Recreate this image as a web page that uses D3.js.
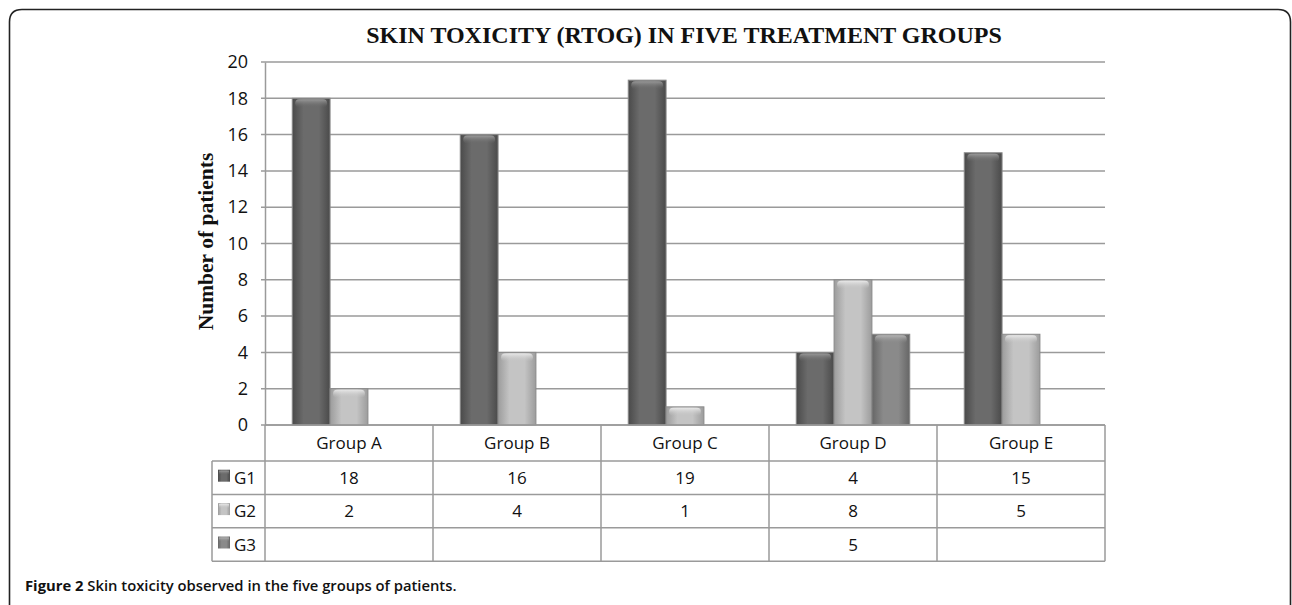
<!DOCTYPE html>
<html>
<head>
<meta charset="utf-8">
<script src="https://cdn.jsdelivr.net/npm/d3@7"></script>
<style>
  body { margin: 0; background: #fff; }
  svg { display: block; }
</style>
</head>
<body>
<div id="chart"></div>
<script>
// Chart data
const groups = ["Group A", "Group B", "Group C", "Group D", "Group E"];
const seriesNames = ["G1", "G2", "G3"];
const g1Values = [18, 16, 19, 4, 15];
const g2Values = [2, 4, 1, 8, 5];
const g3Values = [null, null, null, 5, null];
const yTickValues = [0, 2, 4, 6, 8, 10, 12, 14, 16, 18, 20];

const seriesValues = { G1: g1Values, G2: g2Values, G3: g3Values };

// colors: [edge, centre, bevel highlight]
const seriesColors = {
  G1: ["#4a4a4a", "#6b6b6b", "#9a9a9a"],
  G2: ["#9c9c9c", "#c4c4c4", "#e8e8e8"],
  G3: ["#666666", "#8a8a8a", "#b5b5b5"]
};

const W = 1292, H = 605;
const plot = { left: 265, right: 1105, top: 62, bottom: 425 };
const legendLeft = 212;
const headerH = 36, rowH = 33.4;
const sans = "'Open Sans', sans-serif";
const serif = "'Liberation Serif', 'Times New Roman', serif";

const svg = d3.select("#chart").append("svg")
  .attr("width", W)
  .attr("height", H);

const defs = svg.append("defs");
seriesNames.forEach(s => {
  const c = seriesColors[s];
  const lg = defs.append("linearGradient").attr("id", "grad-" + s)
    .attr("x1", "0%").attr("x2", "100%").attr("y1", "0%").attr("y2", "0%");
  lg.append("stop").attr("offset", "0%").attr("stop-color", c[0]);
  lg.append("stop").attr("offset", "30%").attr("stop-color", c[1]);
  lg.append("stop").attr("offset", "70%").attr("stop-color", c[1]);
  lg.append("stop").attr("offset", "100%").attr("stop-color", c[0]);
  const tg = defs.append("linearGradient").attr("id", "top-" + s)
    .attr("x1", "0%").attr("x2", "0%").attr("y1", "0%").attr("y2", "100%");
  tg.append("stop").attr("offset", "0%").attr("stop-color", c[2]);
  tg.append("stop").attr("offset", "100%").attr("stop-color", c[1]).attr("stop-opacity", 0);
});

// outer frame (rounded top, open bottom)
svg.append("path")
  .attr("d", `M9.5,${H} L9.5,22 Q9.5,9.5 22,9.5 L1278,9.5 Q1290.5,9.5 1290.5,22 L1290.5,${H}`)
  .attr("fill", "none")
  .attr("stroke", "#222")
  .attr("stroke-width", 1.6);

// scales
const x0 = d3.scaleBand().domain(groups).range([plot.left, plot.right]);
const x1 = d3.scaleBand().domain(seriesNames).range([0, x0.bandwidth()])
  .paddingInner(0).paddingOuter(0.72);
const y = d3.scaleLinear().domain([0, 20]).range([plot.bottom, plot.top]);

// gridlines
svg.append("g").selectAll("line")
  .data(yTickValues)
  .join("line")
  .attr("x1", plot.left - 4).attr("x2", plot.right)
  .attr("y1", d => y(d)).attr("y2", d => y(d))
  .attr("stroke", "#9a9a9a")
  .attr("stroke-width", 1.5);

// y axis
const yAxis = svg.append("g")
  .attr("transform", `translate(${plot.left},0)`)
  .call(d3.axisLeft(y).tickValues(yTickValues).tickSize(0).tickPadding(17));
yAxis.select(".domain").attr("stroke", "#9a9a9a").attr("stroke-width", 1.5);
yAxis.selectAll("text")
  .attr("font-family", sans)
  .attr("font-size", 18)
  .attr("fill", "#111");

// bars
const barData = [];
groups.forEach((g, i) => {
  seriesNames.forEach(s => {
    const v = seriesValues[s][i];
    if (v != null) barData.push({ group: g, series: s, value: v });
  });
});

const bars = svg.append("g").selectAll("g")
  .data(barData)
  .join("g")
  .attr("transform", d => `translate(${x0(d.group) + x1(d.series)},0)`);

bars.append("rect")
  .attr("x", 0)
  .attr("y", d => y(d.value))
  .attr("width", x1.bandwidth())
  .attr("height", d => y(0) - y(d.value))
  .attr("fill", d => `url(#grad-${d.series})`)
  .attr("stroke", "#8a8a8a")
  .attr("stroke-width", 1);

bars.append("rect")
  .attr("x", 3)
  .attr("y", d => y(d.value) + 1)
  .attr("width", x1.bandwidth() - 6)
  .attr("height", d => Math.min(8, y(0) - y(d.value) - 2))
  .attr("rx", 4)
  .attr("fill", d => `url(#top-${d.series})`);

// title
svg.append("text")
  .attr("x", (plot.left + plot.right) / 2 - 1)
  .attr("y", 43)
  .attr("text-anchor", "middle")
  .attr("font-family", serif)
  .attr("font-weight", "bold")
  .attr("font-size", 24)
  .attr("fill", "#111")
  .text("SKIN TOXICITY (RTOG) IN FIVE TREATMENT GROUPS");

// y axis label
svg.append("text")
  .attr("transform", `translate(213,${(plot.top + plot.bottom) / 2 - 2}) rotate(-90)`)
  .attr("text-anchor", "middle")
  .attr("font-family", serif)
  .attr("font-weight", "bold")
  .attr("font-size", 21.5)
  .attr("fill", "#111")
  .text("Number of patients");

// data table
const table = svg.append("g");
const lineColor = "#9a9a9a";
const tableTop = plot.bottom;
const rowsTop = tableTop + headerH;
const tableBottom = rowsTop + rowH * seriesNames.length;

table.append("line")
  .attr("x1", plot.left).attr("x2", plot.right)
  .attr("y1", tableTop).attr("y2", tableTop)
  .attr("stroke", lineColor).attr("stroke-width", 1.5);
d3.range(seriesNames.length + 1).forEach(i => {
  const yy = rowsTop + i * rowH;
  table.append("line")
    .attr("x1", legendLeft).attr("x2", plot.right)
    .attr("y1", yy).attr("y2", yy)
    .attr("stroke", lineColor).attr("stroke-width", 1.5);
});
table.selectAll(".vline")
  .data(groups.map(g => x0(g)).concat([plot.right]))
  .join("line")
  .attr("x1", d => d).attr("x2", d => d)
  .attr("y1", tableTop).attr("y2", tableBottom)
  .attr("stroke", lineColor).attr("stroke-width", 1.5);
table.append("line")
  .attr("x1", legendLeft).attr("x2", legendLeft)
  .attr("y1", rowsTop).attr("y2", tableBottom)
  .attr("stroke", lineColor).attr("stroke-width", 1.5);

// header labels
table.selectAll(".hdr")
  .data(groups)
  .join("text")
  .attr("x", d => x0(d) + x0.bandwidth() / 2)
  .attr("y", tableTop + headerH / 2 + 6)
  .attr("text-anchor", "middle")
  .attr("font-family", sans)
  .attr("font-size", 17)
  .attr("fill", "#111")
  .text(d => d);

// rows
seriesNames.forEach((s, r) => {
  const cy = rowsTop + r * rowH + rowH / 2;
  table.append("rect")
    .attr("x", legendLeft + 6)
    .attr("y", cy - 8)
    .attr("width", 12)
    .attr("height", 12)
    .attr("fill", `url(#grad-${s})`);
  table.append("rect")
    .attr("x", legendLeft + 7)
    .attr("y", cy - 7)
    .attr("width", 10)
    .attr("height", 4)
    .attr("fill", `url(#top-${s})`);
  table.append("text")
    .attr("x", legendLeft + 22)
    .attr("y", cy + 6)
    .attr("font-family", sans)
    .attr("font-size", 17)
    .attr("fill", "#111")
    .text(s);
  table.selectAll(".val-" + s)
    .data(groups.map((g, i) => ({ group: g, value: seriesValues[s][i] })).filter(d => d.value != null))
    .join("text")
    .attr("x", d => x0(d.group) + x0.bandwidth() / 2)
    .attr("y", cy + 6)
    .attr("text-anchor", "middle")
    .attr("font-family", sans)
    .attr("font-size", 17)
    .attr("fill", "#111")
    .text(d => d.value);
});

// caption
const cap = svg.append("text")
  .attr("x", 25)
  .attr("y", 591)
  .attr("font-family", sans)
  .attr("font-size", 14.8)
  .attr("fill", "#111");
cap.append("tspan").attr("font-weight", "bold").text("Figure 2 ");
cap.append("tspan").attr("font-weight", 600).text("Skin toxicity observed in the five groups of patients.");
</script>
</body>
</html>
